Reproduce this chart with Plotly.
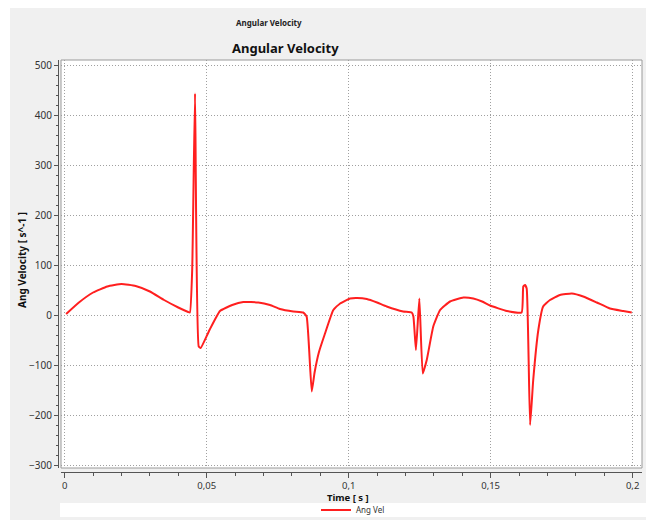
import plotly.graph_objects as go

# Data (time in s, angular velocity in s^-1)
time_s = [0.0005, 0.005, 0.010, 0.015, 0.020, 0.025, 0.030, 0.035, 0.040, 0.0435,
          0.0441, 0.0449, 0.0459, 0.0472, 0.0479, 0.0510, 0.0547, 0.0590, 0.0629, 0.0682,
          0.0723, 0.0758, 0.0805, 0.0840, 0.0852, 0.0870, 0.0880, 0.0895, 0.0915, 0.0946, 0.0970,
          0.1005, 0.1030, 0.1064, 0.1100, 0.1134, 0.1192, 0.1222, 0.1228, 0.1237, 0.1249, 0.1261,
          0.1275, 0.1298, 0.1322, 0.1357, 0.1404, 0.1439, 0.1470, 0.1498, 0.1557, 0.1609, 0.1615,
          0.1621, 0.1627, 0.1639, 0.1650, 0.1668, 0.1685, 0.1709, 0.1744, 0.1786, 0.1826,
          0.1874, 0.1920, 0.1967, 0.1997]
ang_vel = [2, 25, 45, 57, 62, 58, 47, 30, 15, 6,
           5, 90, 443, -63, -66, -30, 8, 20, 26, 25,
           20, 12, 7, 5, -3, -153, -115, -75, -40, 10, 23,
           33, 34, 32, 25, 17, 7, 5, -3, -70, 33, -117,
           -90, -23, 10, 27, 35, 33, 27, 19, 8, 5, 57,
           60, 53, -220, -130, -30, 17, 30, 40, 43, 37,
           25, 13, 8, 5]

x_ticks = [0, 0.05, 0.1, 0.15, 0.2]
y_ticks = [-300, -200, -100, 0, 100, 200, 300, 400, 500]

# Pixel layout helpers (paper spans x 58..642, y 60..472)
PL, PR, PT, PB = 58, 642, 60, 472
PLOT_BOTTOM = 468
W, H = 646, 520
def px(x):
    return (x - PL) / (PR - PL)
def py(y):
    return (PB - y) / (PB - PT)

FONT = "Noto Sans"
GRID_DASH = "1px,2px"

fig = go.Figure()
fig.add_trace(go.Scatter(
    x=time_s, y=ang_vel, mode="lines", name="Ang Vel",
    line=dict(color="#ff1f1f", width=2, shape="spline", smoothing=0.4),
))

fig.update_layout(
    width=W, height=H,
    margin=dict(l=PL, r=W - PR, t=PT, b=H - PB, pad=0, autoexpand=False),
    paper_bgcolor="#f0f0f0",
    plot_bgcolor="#ffffff",
    separators=",.",
    font=dict(family=FONT, size=10, color="#333333"),
    showlegend=True,
    legend=dict(orientation="h", x=px(353), y=py(510), xanchor="center", yanchor="middle",
                bgcolor="rgba(0,0,0,0)", font=dict(size=8, color="#333333"),
                itemwidth=30),
    xaxis=dict(
        domain=[px(61), 1], range=[(61 - 64.7) / 2839.5, (PR - 64.7) / 2839.5],
        anchor="free", position=0,
        tickvals=x_ticks, ticks="outside", ticklen=5, tickcolor="#555555",
        showline=True, linecolor="#555555", linewidth=1,
        showgrid=True, gridcolor="#a0a0a0", griddash=GRID_DASH, gridwidth=1,
        zeroline=False,
        minor=dict(dtick=0.01, ticks="outside", ticklen=3, tickcolor="#555555", showgrid=False),
        tickfont=dict(size=9.5, color="#333333"),
        title=dict(text=""),
    ),
    yaxis=dict(
        domain=[py(PLOT_BOTTOM), 1], range=[-306, 510],
        anchor="free", position=0,
        tickvals=y_ticks, ticks="outside", ticklen=4, tickcolor="#555555",
        showline=True, linecolor="#555555", linewidth=1,
        showgrid=True, gridcolor="#a0a0a0", griddash=GRID_DASH, gridwidth=1,
        zeroline=False,
        minor=dict(dtick=20, ticks="outside", ticklen=2, tickcolor="#555555", showgrid=False),
        tickfont=dict(size=10, color="#333333"),
        title=dict(text=""),
    ),
)

shapes = [
    # white outer strips
    dict(type="rect", xref="paper", yref="paper", x0=px(-5), x1=px(W + 5), y0=py(8), y1=py(-5),
         fillcolor="white", line=dict(width=0), layer="below"),
    dict(type="rect", xref="paper", yref="paper", x0=px(-5), x1=px(10), y0=py(H + 5), y1=py(-5),
         fillcolor="white", line=dict(width=0), layer="below"),
    # legend box
    dict(type="rect", xref="paper", yref="paper", x0=px(60), x1=px(W + 5), y0=py(517), y1=py(503),
         fillcolor="white", line=dict(width=0), layer="below"),
    # plot frame
    dict(type="rect", xref="paper", yref="paper", x0=px(61), x1=1, y0=py(PLOT_BOTTOM), y1=1,
         fillcolor="rgba(0,0,0,0)", line=dict(width=1, color="#9a9a9a"), layer="above"),
]
fig.update_layout(shapes=shapes)

fig.add_annotation(text="<b>Angular Velocity</b>", xref="paper", yref="paper",
                   x=px(269), y=py(22), showarrow=False, xanchor="center", yanchor="middle",
                   font=dict(size=8, color="#222222"))
fig.add_annotation(text="<b>Angular Velocity</b>", xref="paper", yref="paper",
                   x=px(285), y=py(48), showarrow=False, xanchor="center", yanchor="middle",
                   font=dict(size=13, color="#111111"))
fig.add_annotation(text="<b>Ang Velocity [ s^-1 ]</b>", xref="paper", yref="paper",
                   x=px(22), y=py(260), showarrow=False, xanchor="center", yanchor="middle",
                   textangle=-90, font=dict(size=10, color="#111111"))
fig.add_annotation(text="<b>Time [ s ]</b>", xref="paper", yref="paper",
                   x=px(348), y=py(497.5), showarrow=False, xanchor="center", yanchor="middle",
                   font=dict(size=9.5, color="#111111"))

fig.write_html("out.html")
